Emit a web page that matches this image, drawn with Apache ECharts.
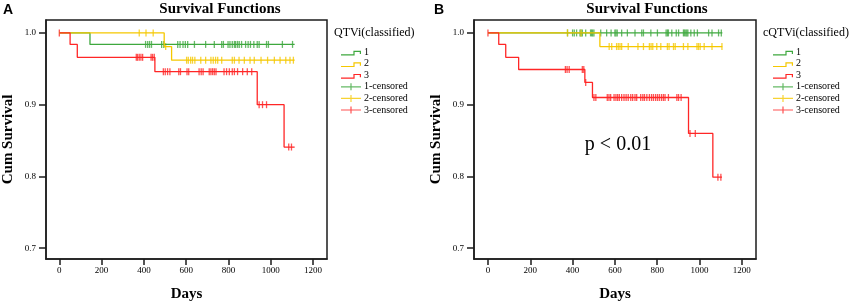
<!DOCTYPE html>
<html>
<head>
<meta charset="utf-8">
<script src="https://cdn.jsdelivr.net/npm/echarts@6/dist/echarts.min.js"></script>
<style>
  html, body { margin: 0; padding: 0; background: #fff; }
  #main { width: 850px; height: 304px; }
</style>
</head>
<body>
<div id="main"></div>
<script>
// tick labels
var dayTicks = [0, 200, 400, 600, 800, 1000, 1200];
var survTicks = [0.7, 0.8, 0.9, 1.0];
var groupNames = ['1', '2', '3'];
var censorNames = ['1-censored', '2-censored', '3-censored'];

// panel A - QTVi, step curves [day, cum survival]
var stepA1 = [[0, 1], [145, 0.984], [1113, 0.984]];
var stepA2 = [[0, 1], [496, 0.981], [531, 0.962], [1113, 0.962]];
var stepA3 = [[0, 1], [51, 0.984], [85, 0.966], [452, 0.946], [936, 0.900], [1063, 0.841], [1113, 0.841]];

// panel A censored
var censA1 = [[408, 0.984], [418, 0.984], [427, 0.984], [436, 0.984], [484, 0.984], [494, 0.984], [560, 0.984],
  [571, 0.984], [585, 0.984], [596, 0.984], [607, 0.984], [639, 0.984], [692, 0.984], [733, 0.984], [768, 0.984],
  [776, 0.984], [798, 0.984], [807, 0.984], [818, 0.984], [828, 0.984], [834, 0.984], [843, 0.984], [851, 0.984],
  [862, 0.984], [881, 0.984], [893, 0.984], [904, 0.984], [920, 0.984], [936, 0.984], [945, 0.984], [980, 0.984],
  [989, 0.984], [1055, 0.984], [1103, 0.984]];
var censA2 = [[378, 1], [410, 1], [444, 1], [503, 0.981],
  [602, 0.962], [610, 0.962], [621, 0.962], [630, 0.962], [641, 0.962], [669, 0.962], [692, 0.962], [717, 0.962],
  [728, 0.962], [739, 0.962], [749, 0.962], [768, 0.962], [818, 0.962], [828, 0.962], [850, 0.962], [875, 0.962],
  [902, 0.962], [922, 0.962], [954, 0.962], [985, 0.962], [1017, 0.962], [1044, 0.962], [1071, 0.962], [1091, 0.962],
  [1107, 0.962]];
var censA3 = [[0, 1], [364, 0.966], [370, 0.966], [378, 0.966], [386, 0.966], [394, 0.966], [434, 0.966], [441, 0.966],
  [449, 0.966], [492, 0.946], [501, 0.946], [512, 0.946], [523, 0.946], [565, 0.946], [573, 0.946], [604, 0.946],
  [612, 0.946], [661, 0.946], [671, 0.946], [680, 0.946], [709, 0.946], [717, 0.946], [725, 0.946], [733, 0.946],
  [741, 0.946], [779, 0.946], [791, 0.946], [804, 0.946], [818, 0.946], [828, 0.946], [843, 0.946], [867, 0.946],
  [889, 0.946], [910, 0.946], [945, 0.900], [961, 0.900], [980, 0.900], [1085, 0.841], [1098, 0.841]];

// panel B - cQTVi
var stepB1 = [[0, 1], [1108, 1]];
var stepB2 = [[0, 1], [529, 0.981], [1108, 0.981]];
var stepB3 = [[0, 1], [51, 0.984], [84, 0.966], [145, 0.949], [458, 0.931], [494, 0.910], [948, 0.860], [1063, 0.799], [1106, 0.799]];

var censB1 = [[376, 1], [400, 1], [408, 1], [419, 1], [435, 1], [440, 1], [446, 1], [462, 1], [485, 1], [490, 1],
  [495, 1], [501, 1], [533, 1], [561, 1], [582, 1], [600, 1], [605, 1], [611, 1], [632, 1], [659, 1], [695, 1],
  [727, 1], [735, 1], [770, 1], [801, 1], [842, 1], [848, 1], [853, 1], [869, 1], [890, 1], [901, 1], [924, 1],
  [929, 1], [935, 1], [940, 1], [945, 1], [959, 1], [975, 1], [990, 1], [1043, 1], [1059, 1], [1090, 1], [1103, 1]];
var censB2 = [[376, 1], [440, 1],
  [573, 0.981], [585, 0.981], [608, 0.981], [616, 0.981], [624, 0.981], [632, 0.981], [663, 0.981], [709, 0.981],
  [735, 0.981], [763, 0.981], [771, 0.981], [779, 0.981], [798, 0.981], [817, 0.981], [848, 0.981], [856, 0.981],
  [877, 0.981], [885, 0.981], [924, 0.981], [945, 0.981], [988, 0.981], [995, 0.981], [1003, 0.981], [1022, 0.981],
  [1059, 0.981], [1106, 0.981]];
var censB3 = [[0, 1], [366, 0.949], [374, 0.949], [384, 0.949], [446, 0.949], [453, 0.949], [462, 0.931],
  [501, 0.910], [510, 0.910], [564, 0.910], [572, 0.910], [580, 0.910], [596, 0.910], [605, 0.910], [613, 0.910],
  [621, 0.910], [632, 0.910], [643, 0.910], [653, 0.910], [663, 0.910], [675, 0.910], [684, 0.910], [695, 0.910],
  [703, 0.910], [722, 0.910], [732, 0.910], [740, 0.910], [751, 0.910], [763, 0.910], [773, 0.910], [782, 0.910],
  [792, 0.910], [801, 0.910], [810, 0.910], [820, 0.910], [829, 0.910], [837, 0.910], [853, 0.910], [893, 0.910],
  [901, 0.910], [913, 0.910], [955, 0.860], [980, 0.860], [1087, 0.799], [1101, 0.799]];

var colors = ['#3ea83e', '#f5c800', '#ff2626'];
var serif = 'Liberation Serif';
var frameColor = '#1c1c1c';

// 图例图标
var stepIcon = 'path://M0,0L0.01,0L0,0.01Z M0,5.8L12.4,5.8L12.4,2.2L20,2.2L20,5.6L18.8,5.6L18.8,3.4L13.6,3.4L13.6,7L0,7Z';
var crossIcon = 'path://M0,2.9L20,2.9L20,4.1L0,4.1Z M9.4,0L10.6,0L10.6,7L9.4,7Z';

function makeX(idx, mn, mx) {
  return {
    type: 'value', gridIndex: idx, min: mn, max: mx,
    name: 'Days', nameLocation: 'middle', nameGap: 28,
    nameTextStyle: { fontFamily: serif, fontWeight: 'bold', fontSize: 15, color: '#000' },
    splitLine: { show: false },
    axisLine: { show: true, onZero: false, lineStyle: { color: frameColor, width: 1.5 } },
    axisTick: { show: true, customValues: dayTicks, length: 6, lineStyle: { color: frameColor, width: 1.5 } },
    axisLabel: { customValues: dayTicks, margin: 7, fontFamily: serif, fontSize: 9, color: '#000',
      formatter: function (v) { return String(v); } }
  };
}

function makeY(idx) {
  return {
    type: 'value', gridIndex: idx, min: 0.685, max: 1.018,
    name: 'Cum Survival', nameLocation: 'middle', nameGap: 30,
    nameTextStyle: { fontFamily: serif, fontWeight: 'bold', fontSize: 15, color: '#000' },
    splitLine: { show: false },
    axisLine: { show: true, onZero: false, lineStyle: { color: frameColor, width: 1.5 } },
    axisTick: { show: true, customValues: survTicks, length: 7, lineStyle: { color: frameColor, width: 1.5 } },
    axisLabel: { customValues: survTicks, margin: 10, fontFamily: serif, fontSize: 9, color: '#000',
      formatter: function (v) { return v.toFixed(1); } }
  };
}

function stepSeries(name, data, c, idx) {
  return {
    name: name, type: 'line', step: 'end', data: data, xAxisIndex: idx, yAxisIndex: idx,
    showSymbol: false, symbol: 'none', color: c, itemStyle: { color: c },
    lineStyle: { color: c, width: 1.3 }, silent: true
  };
}

function censSeries(name, data, c, idx) {
  return {
    name: name, type: 'scatter', data: data, xAxisIndex: idx, yAxisIndex: idx,
    symbol: 'rect', symbolSize: [1.3, 7], color: c, itemStyle: { color: c }, silent: true
  };
}

function legendData() {
  var arr = [];
  for (var i = 0; i < 3; i++)
    arr.push({ name: groupNames[i], icon: stepIcon, itemStyle: { color: colors[i], borderWidth: 0 } });
  for (var j = 0; j < 3; j++)
    arr.push({ name: censorNames[j], icon: crossIcon, itemStyle: { color: colors[j], borderWidth: 0 } });
  return arr;
}

function makeLegend(x) {
  return {
    orient: 'vertical', left: x, top: 47, itemWidth: 20, itemHeight: 7, itemGap: 1.6,
    selectedMode: false, padding: 0,
    textStyle: { fontFamily: serif, fontSize: 10, color: '#000', lineHeight: 7, padding: [0, 0, 0, -2] },
    data: legendData()
  };
}

var series = [];
var stepsA = [stepA1, stepA2, stepA3], censA = [censA1, censA2, censA3];
var stepsB = [stepB1, stepB2, stepB3], censB = [censB1, censB2, censB3];
for (var k = 0; k < 3; k++) {
  series.push(stepSeries(groupNames[k], stepsA[k], colors[k], 0));
  series.push(stepSeries(groupNames[k], stepsB[k], colors[k], 1));
}
for (var m = 0; m < 3; m++) {
  series.push(censSeries(censorNames[m], censA[m], colors[m], 0));
  series.push(censSeries(censorNames[m], censB[m], colors[m], 1));
}

function txt(x, y, s, size, weight, family) {
  return {
    type: 'text', x: x, y: y, silent: true,
    style: { text: s, fill: '#000', fontSize: size, fontWeight: weight, fontFamily: family,
      align: 'center', verticalAlign: 'middle' }
  };
}

var option = {
  animation: false,
  backgroundColor: '#fff',
  grid: [
    { left: 46, top: 20, width: 281, height: 239, show: true, borderColor: frameColor, borderWidth: 1.5,
      containLabel: false, outerBoundsMode: 'none' },
    { left: 474, top: 20, width: 282, height: 239, show: true, borderColor: frameColor, borderWidth: 1.5,
      containLabel: false, outerBoundsMode: 'none' }
  ],
  xAxis: [makeX(0, -63, 1266), makeX(1, -66, 1267)],
  yAxis: [makeY(0), makeY(1)],
  legend: [makeLegend(341), makeLegend(773)],
  graphic: [
    txt(8, 10, 'A', 14, 'bold', 'Liberation Sans'),
    txt(439, 10, 'B', 14, 'bold', 'Liberation Sans'),
    txt(220, 9, 'Survival Functions', 15, 'bold', serif),
    txt(647, 9, 'Survival Functions', 15, 'bold', serif),
    { type: 'text', x: 334, y: 33, silent: true,
      style: { text: 'QTVi(classified)', fill: '#000', fontSize: 12, fontFamily: serif, verticalAlign: 'middle' } },
    { type: 'text', x: 763, y: 33, silent: true,
      style: { text: 'cQTVi(classified)', fill: '#000', fontSize: 12, fontFamily: serif, verticalAlign: 'middle' } },
    txt(618, 145, 'p < 0.01', 20, 'normal', serif)
  ],
  series: series
};

var chart = echarts.init(document.getElementById('main'));
chart.setOption(option);
</script>
</body>
</html>
